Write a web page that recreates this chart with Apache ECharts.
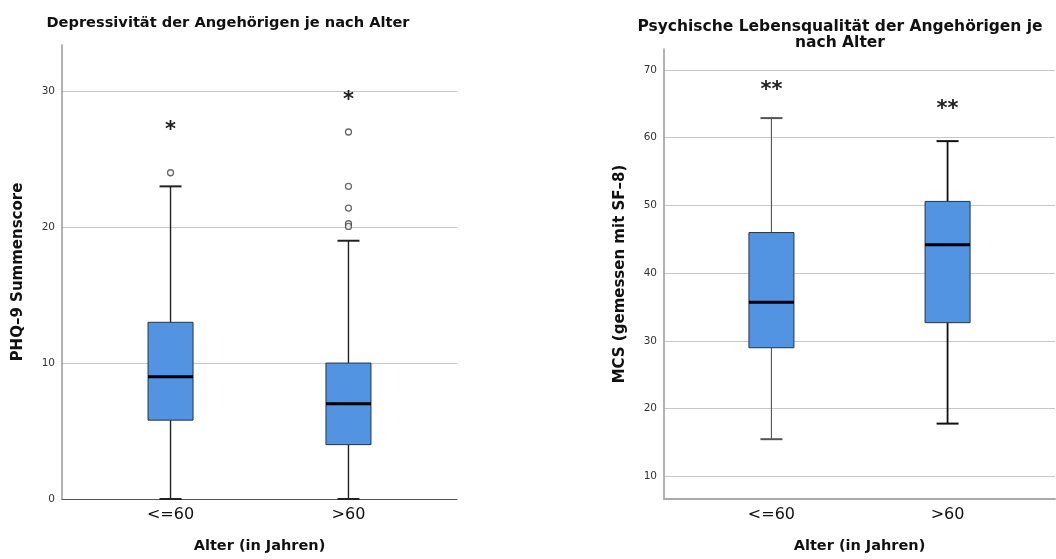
<!DOCTYPE html>
<html>
<head>
<meta charset="utf-8">
<script src="https://cdn.jsdelivr.net/npm/echarts@6/dist/echarts.min.js"></script>
<style>html,body{margin:0;padding:0;background:#fff}#c{width:1056px;height:559px}</style>
</head>
<body>
<div id="c"></div>
<script>
// ---- data ----
const categories = ['<=60', '>60'];
// [min, Q1, median, Q3, max] per category
const phqBoxes = [[0, 5.8, 9, 13, 23], [0, 4, 7, 10, 19]];
const phqOutliers = [[0, 24], [1, 27], [1, 23], [1, 21.4], [1, 20.25], [1, 20.05]];
const phqExtremes = [[0, 27.4], [1, 29.6]];
const mcsBoxes = [[15.5, 29, 35.7, 46, 62.9], [17.8, 32.7, 44.2, 50.6, 59.5]];
const mcsExtremes = [[0, 67.6], [1, 64.7]];
const phqTicks = [0, 10, 20, 30];
const mcsTicks = [10, 20, 30, 40, 50, 60, 70];

const FONT = '"DejaVu Sans", sans-serif';
const whiskerStyles = [
  [{stroke: '#222', lineWidth: 1.4}, {stroke: '#222', lineWidth: 1.4}],
  [{stroke: '#555', lineWidth: 1.1}, {stroke: '#111', lineWidth: 1.8}]
];

function boxRender(chartIdx) {
  return function (params, api) {
    const x = api.value(0);
    const pMin = api.coord([x, api.value(1)]);
    const pQ1 = api.coord([x, api.value(2)]);
    const pMed = api.coord([x, api.value(3)]);
    const pQ3 = api.coord([x, api.value(4)]);
    const pMax = api.coord([x, api.value(5)]);
    const cx = pMin[0];
    const bw = 45, cw = 22;
    const ws = whiskerStyles[chartIdx][params.dataIndex];
    return {
      type: 'group',
      children: [
        {type: 'line', shape: {x1: cx, y1: pMin[1], x2: cx, y2: pQ1[1]}, style: ws},
        {type: 'line', shape: {x1: cx, y1: pQ3[1], x2: cx, y2: pMax[1]}, style: ws},
        {type: 'line', shape: {x1: cx - cw / 2, y1: pMin[1], x2: cx + cw / 2, y2: pMin[1]}, style: {stroke: ws.stroke, lineWidth: 2}},
        {type: 'line', shape: {x1: cx - cw / 2, y1: pMax[1], x2: cx + cw / 2, y2: pMax[1]}, style: {stroke: ws.stroke, lineWidth: 2}},
        {type: 'rect', shape: {x: cx - bw / 2, y: pQ3[1], width: bw, height: pQ1[1] - pQ3[1]},
          style: {fill: '#5294e2', stroke: '#253447', lineWidth: 1}},
        {type: 'line', shape: {x1: cx - bw / 2, y1: pMed[1], x2: cx + bw / 2, y2: pMed[1]}, style: {stroke: '#000', lineWidth: 3}}
      ]
    };
  };
}

function starRender(text) {
  return function (params, api) {
    const p = api.coord([api.value(0), api.value(1)]);
    return {
      type: 'text', x: p[0], y: p[1] + 4,
      style: {text: text, font: 'bold 21px ' + FONT, fill: '#222', align: 'center', verticalAlign: 'middle'}
    };
  };
}

const grids = [
  {left: 62, right: 599, top: 45, bottom: 59},
  {left: 664, right: 1, top: 49, bottom: 60}
];

function xAxisFor(gi, lineColor, lineWidth) {
  return {
    type: 'value', gridIndex: gi, min: 0.39, max: 2.61,
    name: 'Alter (in Jahren)', nameLocation: 'middle', nameGap: 40,
    nameTextStyle: {fontFamily: FONT, fontWeight: 'bold', fontSize: 14.5, color: '#111'},
    axisLine: {show: true, onZero: false, lineStyle: {color: lineColor, width: lineWidth}},
    axisTick: {show: false, customValues: [1, 2]},
    splitLine: {show: false},
    axisLabel: {customValues: [1, 2], formatter: v => categories[Math.round(v) - 1] || '',
      fontFamily: FONT, fontSize: 16, color: '#111', margin: 8}
  };
}

function yAxisFor(gi, min, max, ticks, name) {
  return {
    type: 'value', gridIndex: gi, min: min, max: max,
    name: name, nameLocation: 'middle', nameGap: 36,
    nameTextStyle: {fontFamily: FONT, fontWeight: 'bold', fontSize: 15, color: '#111'},
    axisLine: {show: true, onZero: false, lineStyle: {color: '#999', width: 1.5}},
    axisTick: {show: false, customValues: ticks},
    axisLabel: {customValues: ticks, fontFamily: FONT, fontSize: 10.5, color: '#333', margin: 7},
    splitLine: {show: true, lineStyle: {color: '#c8c8c8', width: 1}}
  };
}

const chart = echarts.init(document.getElementById('c'), null, {renderer: 'canvas'});
chart.setOption({
  animation: false,
  backgroundColor: '#fff',
  title: [
    {text: 'Depressivität der Angehörigen je nach Alter', left: 223, top: 11, textAlign: 'center',
      textStyle: {fontFamily: FONT, fontWeight: 'bold', fontSize: 14.6, color: '#111'}},
    {text: 'Psychische Lebensqualität der Angehörigen je\nnach Alter', left: 835, top: 14, textAlign: 'center',
      textStyle: {fontFamily: FONT, fontWeight: 'bold', fontSize: 15.5, color: '#111', lineHeight: 16}}
  ],
  grid: grids,
  xAxis: [xAxisFor(0, '#555', 1.2), xAxisFor(1, '#aaa', 2)],
  yAxis: [
    yAxisFor(0, 0, 33.4, phqTicks, 'PHQ–9 Summenscore'),
    yAxisFor(1, 6.67, 73.1, mcsTicks, 'MCS (gemessen mit SF–8)')
  ],
  series: [
    {type: 'custom', xAxisIndex: 0, yAxisIndex: 0, renderItem: boxRender(0),
      encode: {x: 0, y: [1, 2, 3, 4, 5]}, data: phqBoxes.map((b, i) => [i + 1].concat(b)), z: 3},
    {type: 'scatter', xAxisIndex: 0, yAxisIndex: 0, symbol: 'circle', symbolSize: 6,
      itemStyle: {color: '#fff', borderColor: '#444', borderWidth: 1.3},
      data: phqOutliers.map(o => [o[0] + 1, o[1]]), z: 4},
    {type: 'custom', xAxisIndex: 0, yAxisIndex: 0, renderItem: starRender('*'),
      encode: {x: 0, y: 1}, data: phqExtremes.map(o => [o[0] + 1, o[1]]), z: 4},
    {type: 'custom', xAxisIndex: 1, yAxisIndex: 1, renderItem: boxRender(1),
      encode: {x: 0, y: [1, 2, 3, 4, 5]}, data: mcsBoxes.map((b, i) => [i + 1].concat(b)), z: 3},
    {type: 'custom', xAxisIndex: 1, yAxisIndex: 1, renderItem: starRender('**'),
      encode: {x: 0, y: 1}, data: mcsExtremes.map(o => [o[0] + 1, o[1]]), z: 4}
  ]
});
</script>
</body>
</html>
